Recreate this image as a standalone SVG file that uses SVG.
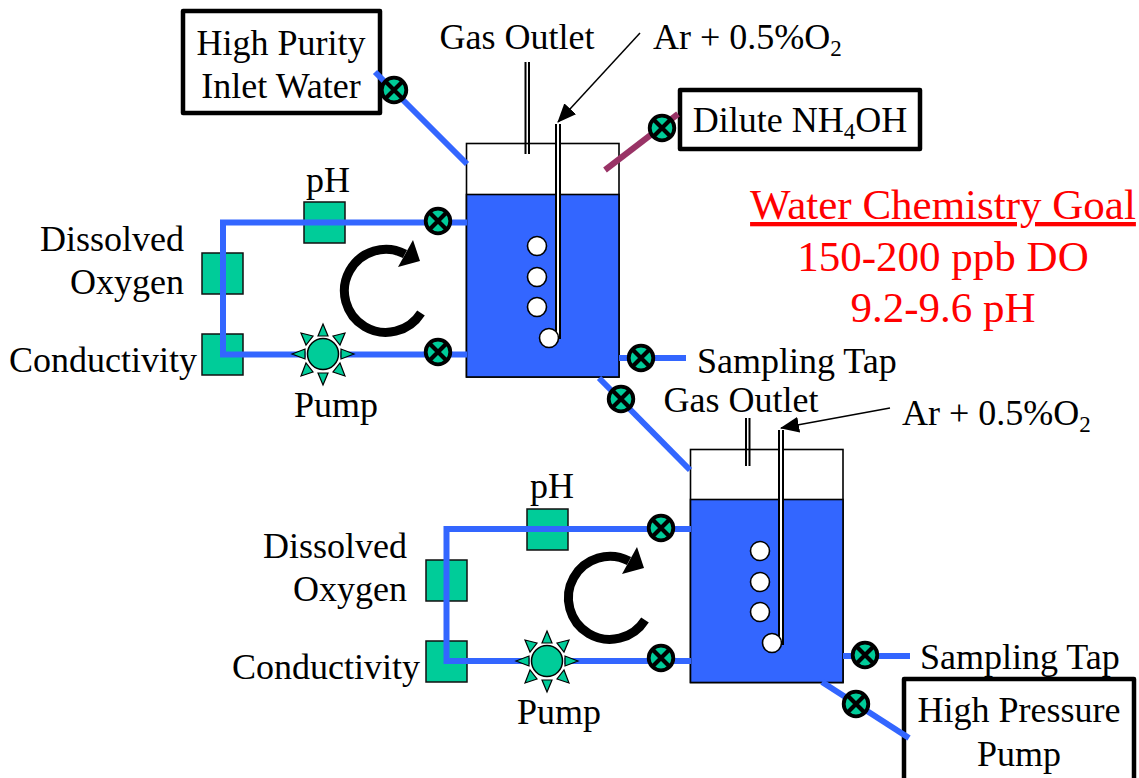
<svg xmlns="http://www.w3.org/2000/svg" xmlns:xlink="http://www.w3.org/1999/xlink" width="1139" height="778" viewBox="0 0 1139 778">
<style>
text{font-family:"Liberation Serif","Times New Roman",serif;fill:#000;font-size:36px}
.m{text-anchor:middle}
.e{text-anchor:end}
.red{fill:#f00;font-size:43px;text-anchor:middle}
.pipe{fill:none;stroke:#3366ff;stroke-width:6}
.sensor{fill:#00cc99;stroke:#111;stroke-width:1.5}
.box{fill:#fff;stroke:#000;stroke-width:4.5;stroke-linejoin:round}
.tube{fill:none;stroke:#000;stroke-width:2}
.bub{fill:#fff;stroke:#000;stroke-width:1.6}
.ray{fill:#00cc99;stroke:#000;stroke-width:1.2}
.sub{font-size:23px}
</style>
<defs>
<g id="valve"><circle r="12.3" fill="#00cc99" stroke="#000" stroke-width="3.8"/><path d="M-9-9L9 9M9-9L-9 9" stroke="#000" stroke-width="4.2"/></g>
<g id="pump">
<circle r="17.5" fill="#fff"/>
<circle r="15.5" fill="#00cc99" stroke="#000" stroke-width="1.5"/>
<g class="ray">
<path d="M0-30L5-18H-5Z"/><path d="M0 31L5 19H-5Z"/><path d="M-31 0L-18-5V5Z"/><path d="M31 0L18-5V5Z"/>
<path d="M-22-21L-10-18L-17-9Z"/><path d="M22-21L10-18L17-9Z"/><path d="M-22 22L-10 18L-17 9Z"/><path d="M22 22L10 18L17 9Z"/>
</g></g>
<g id="swirl"><path d="M421 313A41.5 41.5 0 1 1 405 254" fill="none" stroke="#000" stroke-width="9"/><path d="M413 240L420 261L398 267Z" fill="#000"/></g>
<marker id="ah" markerUnits="userSpaceOnUse" markerWidth="19" markerHeight="16" refX="18" refY="8" orient="auto"><path d="M0 0L19 8L0 16Z" fill="#000"/></marker>
</defs>

<g id="inlet-box"><rect class="box" x="183" y="11" width="197" height="102"/><text class="m" x="281" y="55">High Purity</text><text class="m" x="281" y="98">Inlet Water</text></g>
<g id="nh4oh-box"><rect class="box" x="680" y="90" width="240" height="59"/><text class="m" x="800" y="132">Dilute NH<tspan class="sub" dy="7">4</tspan><tspan dy="-7">OH</tspan></text></g>
<g id="hp-box"><rect class="box" x="904" y="679" width="230" height="110"/><text class="m" x="1019" y="722">High Pressure</text><text class="m" x="1019" y="766">Pump</text></g>

<g id="goal"><text class="red" x="943" y="219" text-decoration="underline">Water Chemistry Goal</text><text class="red" x="943" y="271">150-200 ppb DO</text><text class="red" x="943" y="322">9.2-9.6 pH</text></g>

<g id="tank-1">
<rect x="466.5" y="143.5" width="152.5" height="233.5" fill="#fff" stroke="#000" stroke-width="1.6"/>
<rect x="466.5" y="194.5" width="152.5" height="182.5" fill="#3366ff" stroke="#000" stroke-width="1.6"/>
<path class="tube" d="M525.5 62V154M529 62V154"/>
<path d="M556 124V339H560V124" fill="#fff" stroke="none"/>
<path class="tube" d="M556 124V339M560 124V339"/>
<circle class="bub" cx="537" cy="246" r="9.5"/><circle class="bub" cx="537" cy="277" r="9.5"/><circle class="bub" cx="537" cy="307" r="9.5"/><circle class="bub" cx="549" cy="338" r="9.5"/>
</g>
<g id="tank-2">
<rect x="690.5" y="449.5" width="152.5" height="233" fill="#fff" stroke="#000" stroke-width="1.6"/>
<rect x="690.5" y="499.5" width="152.5" height="183" fill="#3366ff" stroke="#000" stroke-width="1.6"/>
<path class="tube" d="M746 418V466M749.5 418V466"/>
<path d="M779 430V645H783V430" fill="#fff" stroke="none"/>
<path class="tube" d="M779 430V645M783 430V645"/>
<circle class="bub" cx="760" cy="551" r="9.5"/><circle class="bub" cx="760" cy="582" r="9.5"/><circle class="bub" cx="760" cy="612" r="9.5"/><circle class="bub" cx="772" cy="643" r="9.5"/>
</g>

<g id="sensors-1">
<rect class="sensor" x="304" y="202" width="41" height="41"/>
<rect class="sensor" x="202" y="253" width="41" height="41"/>
<rect class="sensor" x="202" y="334" width="41" height="41"/>
</g>
<g id="sensors-2">
<rect class="sensor" x="527" y="509" width="41" height="41"/>
<rect class="sensor" x="426" y="560" width="41" height="41"/>
<rect class="sensor" x="426" y="641" width="41" height="41"/>
</g>

<g id="connectors">
<path class="pipe" d="M375 72L467 164"/>
<path d="M678 114L605 170" fill="none" stroke="#993366" stroke-width="6"/>
<path class="pipe" d="M467 222.500H223V354.500H467"/>
<path class="pipe" d="M619 358H686"/>
<path class="pipe" d="M599 378L690 470"/>
<path class="pipe" d="M691 529H446.500V661H691"/>
<path class="pipe" d="M843 656H910"/>
<path class="pipe" d="M822 682L909 738"/>
<path d="M640 33L558 122" stroke="#000" stroke-width="1.5" marker-end="url(#ah)"/>
<path d="M890 408L781 428" stroke="#000" stroke-width="1.5" marker-end="url(#ah)"/>
</g>

<g id="pump-1"><use xlink:href="#pump" href="#pump" x="323" y="354"/><text class="m" x="336" y="417">Pump</text></g>
<g id="pump-2"><use xlink:href="#pump" href="#pump" x="547" y="661"/><text class="m" x="559" y="724">Pump</text></g>
<use id="swirl-1" xlink:href="#swirl" href="#swirl"/>
<use id="swirl-2" xlink:href="#swirl" href="#swirl" x="224" y="307"/>

<g id="valves">
<use href="#valve" x="394" y="90"/><use href="#valve" x="662" y="128"/>
<use href="#valve" x="438" y="221"/><use href="#valve" x="438" y="352"/>
<use href="#valve" x="641" y="358"/><use href="#valve" x="621" y="399"/>
<use href="#valve" x="661" y="528"/><use href="#valve" x="661" y="658"/>
<use href="#valve" x="865" y="655"/><use href="#valve" x="856" y="704"/>
</g>

<g id="labels">
<text class="m" x="517" y="49">Gas Outlet</text>
<text x="653" y="49">Ar + 0.5%O<tspan class="sub" dy="7">2</tspan></text>
<text class="m" x="328" y="192">pH</text>
<text class="e" x="184" y="251">Dissolved</text>
<text class="e" x="184" y="294">Oxygen</text>
<text class="e" x="197" y="372">Conductivity</text>
<text x="697" y="373">Sampling Tap</text>
<text class="m" x="741" y="412">Gas Outlet</text>
<text x="902" y="425">Ar + 0.5%O<tspan class="sub" dy="7">2</tspan></text>
<text class="m" x="552" y="498">pH</text>
<text class="e" x="407" y="558">Dissolved</text>
<text class="e" x="407" y="601">Oxygen</text>
<text class="e" x="420" y="679">Conductivity</text>
<text x="920" y="669">Sampling Tap</text>
</g>
</svg>
